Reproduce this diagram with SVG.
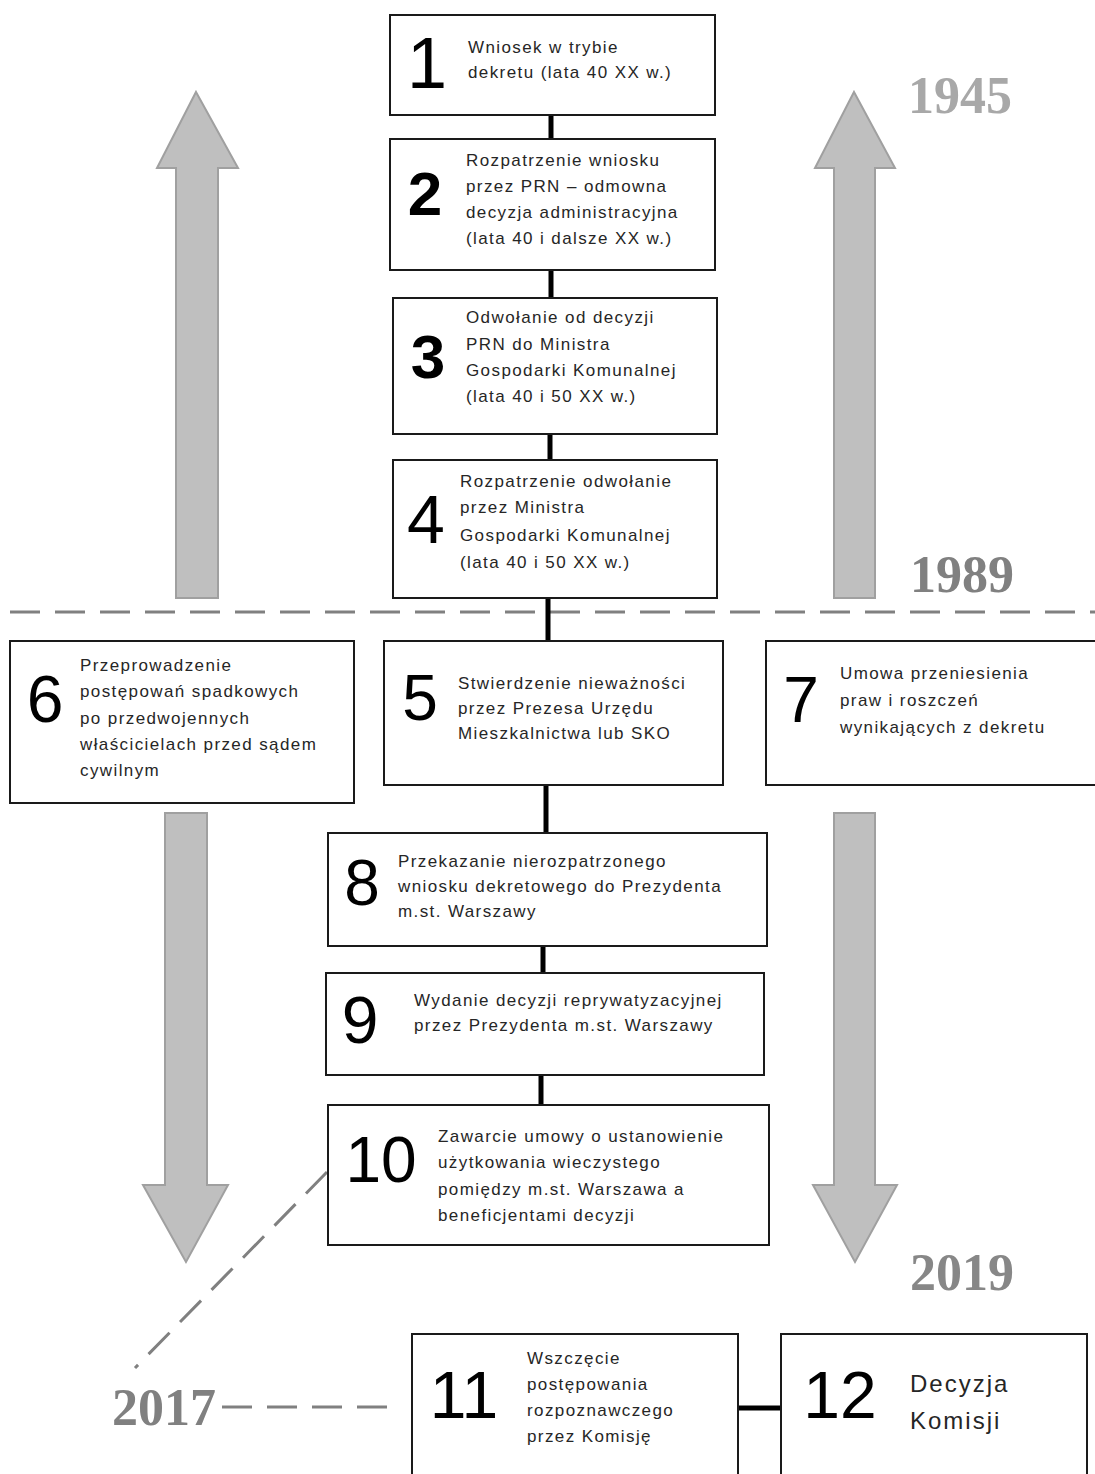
<svg xmlns="http://www.w3.org/2000/svg" width="1095" height="1474" viewBox="0 0 1095 1474">
<style>
.box{fill:#fff;stroke:#1a1a1a;stroke-width:2}
.t{font-family:"Liberation Sans",Arial,sans-serif;font-size:17px;letter-spacing:1.4px;fill:#262626}
.t2{font-family:"Liberation Sans",Arial,sans-serif;font-size:24px;letter-spacing:2px;fill:#262626}
.n{font-family:"Liberation Sans",Arial,sans-serif;fill:#000;text-anchor:middle}
.yr{font-family:"Liberation Serif","Times New Roman",serif;font-weight:bold;font-size:52px}
.conn{stroke:#000;stroke-width:5;fill:none}
.dash{stroke:#808080;stroke-width:3;stroke-dasharray:30 15;fill:none}
.arr{fill:#bfbfbf;stroke:#a0a0a0;stroke-width:2}
</style>
<rect width="1095" height="1474" fill="#fff"/>
<g id="timeline-arrows">
<path class="arr" d="M196,92 L238,168 L218,168 L218,598 L176,598 L176,168 L157,168 Z"/>
<path class="arr" d="M854,92 L895,168 L875,168 L875,598 L834,598 L834,168 L815,168 Z"/>
<path class="arr" d="M165,813 L207,813 L207,1185 L228,1185 L186,1262 L143,1185 L165,1185 Z"/>
<path class="arr" d="M834,813 L875,813 L875,1185 L897,1185 L855,1262 L813,1185 L834,1185 Z"/>
</g>
<g id="years">
<text class="yr" x="908" y="113" fill="#a8a8a8">1945</text>
<text class="yr" x="910" y="592" fill="#808080">1989</text>
<text class="yr" x="910" y="1290" fill="#878787">2019</text>
<text class="yr" x="112" y="1425" fill="#808080">2017</text>
</g>
<g id="connectors">
<line class="dash" x1="10" y1="612" x2="1095" y2="612"/>
<line class="dash" x1="327" y1="1172" x2="135" y2="1368"/>
<line class="dash" x1="222" y1="1407" x2="402" y2="1407"/>
<line class="conn" x1="551" y1="115" x2="551" y2="139"/>
<line class="conn" x1="551" y1="270" x2="551" y2="298"/>
<line class="conn" x1="550" y1="434" x2="550" y2="460"/>
<line class="conn" x1="548" y1="598" x2="548" y2="641"/>
<line class="conn" x1="546" y1="785" x2="546" y2="833"/>
<line class="conn" x1="543" y1="946" x2="543" y2="973"/>
<line class="conn" x1="541" y1="1075" x2="541" y2="1105"/>
<line class="conn" x1="738" y1="1408" x2="781" y2="1408"/>
</g>
<g id="node1">
<rect class="box" x="390" y="15" width="325" height="100"/>
<text class="n" x="427" y="88" font-size="72">1</text>
<text class="t" x="468" y="53">Wniosek w trybie</text>
<text class="t" x="468" y="78">dekretu (lata 40 XX w.)</text>
</g>
<g id="node2">
<rect class="box" x="390" y="139" width="325" height="131"/>
<text class="n" x="425" y="215" font-size="62" font-weight="bold">2</text>
<text class="t" x="466" y="166">Rozpatrzenie wniosku</text>
<text class="t" x="466" y="192">przez PRN – odmowna</text>
<text class="t" x="466" y="218">decyzja administracyjna</text>
<text class="t" x="466" y="244">(lata 40 i dalsze XX w.)</text>
</g>
<g id="node3">
<rect class="box" x="393" y="298" width="324" height="136"/>
<text class="n" x="428" y="378" font-size="62" font-weight="bold">3</text>
<text class="t" x="466" y="323">Odwołanie od decyzji</text>
<text class="t" x="466" y="350">PRN do Ministra</text>
<text class="t" x="466" y="376">Gospodarki Komunalnej</text>
<text class="t" x="466" y="402">(lata 40 i 50 XX w.)</text>
</g>
<g id="node4">
<rect class="box" x="393" y="460" width="324" height="138"/>
<text class="n" x="426" y="543" font-size="68">4</text>
<text class="t" x="460" y="487">Rozpatrzenie odwołanie</text>
<text class="t" x="460" y="513">przez Ministra</text>
<text class="t" x="460" y="541">Gospodarki Komunalnej</text>
<text class="t" x="460" y="568">(lata 40 i 50 XX w.)</text>
</g>
<g id="node5">
<rect class="box" x="384" y="641" width="339" height="144"/>
<text class="n" x="420" y="720" font-size="64">5</text>
<text class="t" x="458" y="689">Stwierdzenie nieważności</text>
<text class="t" x="458" y="714">przez Prezesa Urzędu</text>
<text class="t" x="458" y="739">Mieszkalnictwa lub SKO</text>
</g>
<g id="node6">
<rect class="box" x="10" y="641" width="344" height="162"/>
<text class="n" x="45" y="722" font-size="66">6</text>
<text class="t" x="80" y="671">Przeprowadzenie</text>
<text class="t" x="80" y="697">postępowań spadkowych</text>
<text class="t" x="80" y="724">po przedwojennych</text>
<text class="t" x="80" y="750">właścicielach przed sądem</text>
<text class="t" x="80" y="776">cywilnym</text>
</g>
<g id="node7">
<rect class="box" x="766" y="641" width="335" height="144"/>
<text class="n" x="801" y="722" font-size="64">7</text>
<text class="t" x="840" y="679">Umowa przeniesienia</text>
<text class="t" x="840" y="706">praw i roszczeń</text>
<text class="t" x="840" y="733">wynikających z dekretu</text>
</g>
<g id="node8">
<rect class="box" x="328" y="833" width="439" height="113"/>
<text class="n" x="362" y="905" font-size="64">8</text>
<text class="t" x="398" y="867">Przekazanie nierozpatrzonego</text>
<text class="t" x="398" y="892">wniosku dekretowego do Prezydenta</text>
<text class="t" x="398" y="917">m.st. Warszawy</text>
</g>
<g id="node9">
<rect class="box" x="326" y="973" width="438" height="102"/>
<text class="n" x="360" y="1043" font-size="66">9</text>
<text class="t" x="414" y="1006">Wydanie decyzji reprywatyzacyjnej</text>
<text class="t" x="414" y="1031">przez Prezydenta m.st. Warszawy</text>
</g>
<g id="node10">
<rect class="box" x="328" y="1105" width="441" height="140"/>
<text class="n" x="381" y="1182" font-size="64">10</text>
<text class="t" x="438" y="1142">Zawarcie umowy o ustanowienie</text>
<text class="t" x="438" y="1168">użytkowania wieczystego</text>
<text class="t" x="438" y="1195">pomiędzy m.st. Warszawa a</text>
<text class="t" x="438" y="1221">beneficjentami decyzji</text>
</g>
<g id="node11">
<rect class="box" x="412" y="1334" width="326" height="150"/>
<text class="n" x="464" y="1418" font-size="66">11</text>
<text class="t" x="527" y="1364">Wszczęcie</text>
<text class="t" x="527" y="1390">postępowania</text>
<text class="t" x="527" y="1416">rozpoznawczego</text>
<text class="t" x="527" y="1442">przez Komisję</text>
</g>
<g id="node12">
<rect class="box" x="781" y="1334" width="306" height="150"/>
<text class="n" x="840" y="1418" font-size="66">12</text>
<text class="t2" x="910" y="1392">Decyzja</text>
<text class="t2" x="910" y="1429">Komisji</text>
</g>
</svg>
